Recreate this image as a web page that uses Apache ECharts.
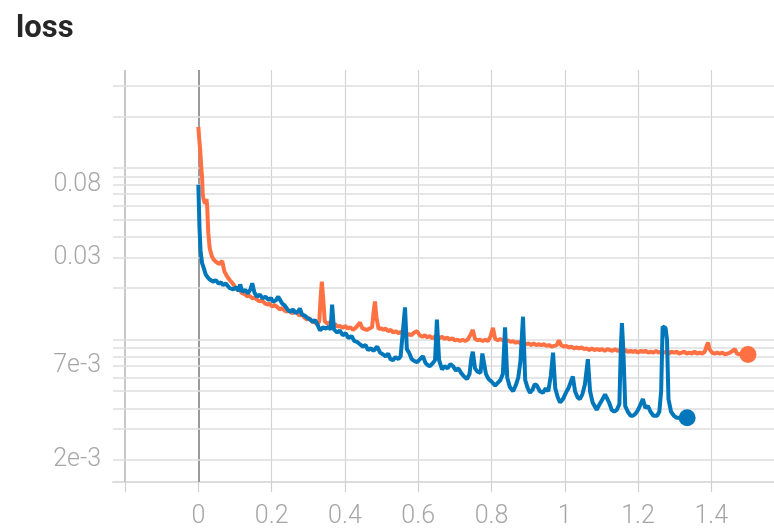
<!DOCTYPE html>
<html>
<head>
<meta charset="utf-8">
<script src="https://cdn.jsdelivr.net/npm/echarts@6/dist/echarts.min.js"></script>
<style>
html, body { margin: 0; padding: 0; background: #fff; }
#chart { width: 774px; height: 529px; }
</style>
</head>
<body>
<div id="chart"></div>
<script>
var chart = echarts.init(document.getElementById('chart'));

// x axis ticks (step, in millions) and labels
var xTicks = [-0.2, 0, 0.2, 0.4, 0.6, 0.8, 1, 1.2, 1.4];
var xLabelTicks = [0, 0.2, 0.4, 0.6, 0.8, 1, 1.2, 1.4];

// log grid lines on y, and which ones carry a label
var yGridLines = [0.3, 0.2, 0.1, 0.09, 0.08, 0.07, 0.06, 0.05, 0.04, 0.03, 0.02,
	0.01, 0.009, 0.008, 0.007, 0.006, 0.005, 0.004, 0.003, 0.002];
var yLabelValues = [0.08, 0.03, 0.007, 0.002];
var yLabelTexts = ['0.08', '0.03', '7e-3', '2e-3'];
var yMin = 0.00148;
var yMax = 0.3728;

var blueSteps = [0.000, 0.003, 0.006, 0.010, 0.015, 0.020, 0.024, 0.030, 0.035, 0.040,
	0.048, 0.055, 0.062, 0.067, 0.075, 0.085, 0.095, 0.103, 0.110, 0.114,
	0.120, 0.128, 0.135, 0.142, 0.147, 0.153, 0.160, 0.168, 0.175, 0.183,
	0.192, 0.198, 0.204, 0.212, 0.218, 0.223, 0.229, 0.236, 0.243, 0.250,
	0.258, 0.265, 0.272, 0.277, 0.283, 0.290, 0.297, 0.305, 0.312, 0.318,
	0.324, 0.332, 0.340, 0.348, 0.356, 0.361, 0.365, 0.370, 0.378, 0.386,
	0.394, 0.402, 0.410, 0.418, 0.426, 0.433, 0.441, 0.449, 0.456, 0.463,
	0.471, 0.478, 0.488, 0.496, 0.504, 0.511, 0.518, 0.524, 0.531, 0.538,
	0.546, 0.552, 0.556, 0.564, 0.569, 0.575, 0.582, 0.590, 0.597, 0.605,
	0.613, 0.620, 0.626, 0.632, 0.640, 0.646, 0.651, 0.657, 0.665, 0.672,
	0.680, 0.688, 0.695, 0.703, 0.710, 0.717, 0.725, 0.733, 0.740, 0.745,
	0.749, 0.755, 0.762, 0.770, 0.775, 0.779, 0.785, 0.792, 0.800, 0.810,
	0.817, 0.824, 0.831, 0.837, 0.843, 0.850, 0.859, 0.866, 0.873, 0.879,
	0.886, 0.892, 0.899, 0.905, 0.912, 0.918, 0.924, 0.932, 0.940, 0.948,
	0.955, 0.962, 0.968, 0.974, 0.981, 0.987, 0.995, 1.003, 1.010, 1.018,
	1.022, 1.028, 1.035, 1.041, 1.048, 1.055, 1.063, 1.069, 1.076, 1.087,
	1.095, 1.103, 1.110, 1.115, 1.121, 1.128, 1.135, 1.142, 1.149, 1.153,
	1.156, 1.160, 1.165, 1.172, 1.180, 1.186, 1.193, 1.200, 1.207, 1.213,
	1.220, 1.227, 1.234, 1.242, 1.252, 1.258, 1.263, 1.267, 1.275, 1.279,
	1.283, 1.290, 1.298, 1.306, 1.315, 1.324, 1.334];
var blueLoss = [0.080, 0.045, 0.033, 0.028, 0.026, 0.0240, 0.0233, 0.0225, 0.0228, 0.0218,
	0.0222, 0.0212, 0.0216, 0.0208, 0.0212, 0.0200, 0.0196, 0.0202, 0.0192, 0.0210,
	0.0190, 0.0195, 0.0186, 0.0196, 0.0213, 0.0188, 0.0178, 0.0183, 0.0174, 0.0178,
	0.0170, 0.0175, 0.0166, 0.0170, 0.0178, 0.0180, 0.0162, 0.0158, 0.0150, 0.0145,
	0.0150, 0.0143, 0.0146, 0.0152, 0.0140, 0.0138, 0.0134, 0.0131, 0.0127, 0.0130,
	0.0124, 0.0113, 0.0118, 0.0116, 0.0119, 0.0114, 0.0160, 0.0115, 0.0110, 0.0113,
	0.0106, 0.0109, 0.0102, 0.0105, 0.0098, 0.0097, 0.0094, 0.0091, 0.0093, 0.0087,
	0.0089, 0.0086, 0.0091, 0.0084, 0.0082, 0.0080, 0.0083, 0.0077, 0.0076, 0.0079,
	0.0077, 0.0080, 0.0082, 0.0154, 0.0088, 0.0084, 0.0077, 0.0075, 0.0074, 0.0077,
	0.0080, 0.0073, 0.0071, 0.0070, 0.0073, 0.0076, 0.0131, 0.0076, 0.0067, 0.0070,
	0.0068, 0.0072, 0.0070, 0.0066, 0.0068, 0.0064, 0.0061, 0.0059, 0.0063, 0.0078,
	0.0085, 0.0068, 0.0065, 0.0064, 0.0083, 0.0084, 0.0063, 0.0059, 0.0057, 0.0054,
	0.0056, 0.0058, 0.0063, 0.0118, 0.0060, 0.0053, 0.0050, 0.0054, 0.0060, 0.0075,
	0.0136, 0.0058, 0.0052, 0.0049, 0.0051, 0.0055, 0.0054, 0.0050, 0.0049, 0.0052,
	0.0050, 0.0062, 0.0084, 0.0052, 0.0046, 0.0043, 0.0045, 0.0049, 0.0052, 0.0058,
	0.0061, 0.0050, 0.0046, 0.0045, 0.0048, 0.0055, 0.0077, 0.0050, 0.0043, 0.0039,
	0.0042, 0.0045, 0.0048, 0.0049, 0.0043, 0.0039, 0.0038, 0.0039, 0.0042, 0.0090,
	0.0125, 0.0085, 0.0041, 0.0038, 0.0036, 0.0036, 0.0037, 0.0039, 0.0042, 0.0045,
	0.0040, 0.0041, 0.0038, 0.0036, 0.0036, 0.0038, 0.0050, 0.0119, 0.0117, 0.0100,
	0.0045, 0.0038, 0.0036, 0.0035, 0.0035, 0.0036, 0.0035];

var orangeSteps = [0.000, 0.002, 0.005, 0.008, 0.010, 0.012, 0.014, 0.018, 0.022, 0.024,
	0.027, 0.031, 0.037, 0.043, 0.051, 0.058, 0.065, 0.071, 0.078, 0.086,
	0.094, 0.100, 0.106, 0.113, 0.120, 0.127, 0.133, 0.140, 0.147, 0.153,
	0.160, 0.167, 0.174, 0.181, 0.188, 0.195, 0.201, 0.208, 0.215, 0.222,
	0.229, 0.236, 0.242, 0.249, 0.256, 0.262, 0.269, 0.276, 0.283, 0.290,
	0.297, 0.304, 0.311, 0.318, 0.324, 0.330, 0.334, 0.337, 0.341, 0.345,
	0.352, 0.359, 0.366, 0.373, 0.380, 0.387, 0.394, 0.401, 0.408, 0.415,
	0.422, 0.429, 0.435, 0.441, 0.447, 0.454, 0.460, 0.467, 0.474, 0.479,
	0.482, 0.486, 0.492, 0.498, 0.504, 0.511, 0.518, 0.525, 0.532, 0.539,
	0.546, 0.553, 0.560, 0.567, 0.574, 0.581, 0.589, 0.597, 0.604, 0.611,
	0.618, 0.624, 0.631, 0.638, 0.645, 0.651, 0.658, 0.665, 0.672, 0.679,
	0.686, 0.693, 0.700, 0.707, 0.714, 0.721, 0.728, 0.735, 0.742, 0.749,
	0.755, 0.762, 0.769, 0.776, 0.783, 0.790, 0.797, 0.804, 0.810, 0.817,
	0.824, 0.831, 0.838, 0.845, 0.852, 0.859, 0.866, 0.873, 0.880, 0.887,
	0.894, 0.901, 0.908, 0.915, 0.922, 0.929, 0.936, 0.943, 0.950, 0.957,
	0.964, 0.971, 0.978, 0.984, 0.990, 0.997, 1.004, 1.011, 1.018, 1.025,
	1.032, 1.039, 1.046, 1.053, 1.060, 1.067, 1.074, 1.081, 1.088, 1.095,
	1.102, 1.109, 1.116, 1.123, 1.130, 1.137, 1.144, 1.151, 1.158, 1.165,
	1.172, 1.179, 1.186, 1.193, 1.200, 1.207, 1.214, 1.221, 1.228, 1.235,
	1.242, 1.249, 1.256, 1.263, 1.270, 1.277, 1.284, 1.291, 1.298, 1.305,
	1.312, 1.319, 1.326, 1.333, 1.340, 1.347, 1.354, 1.361, 1.368, 1.375,
	1.382, 1.388, 1.391, 1.395, 1.402, 1.409, 1.416, 1.423, 1.430, 1.437,
	1.444, 1.451, 1.458, 1.464, 1.470, 1.477, 1.484, 1.491, 1.500];
var orangeLoss = [0.174, 0.150, 0.128, 0.100, 0.089, 0.070, 0.066, 0.062, 0.066, 0.060,
	0.042, 0.034, 0.0305, 0.0290, 0.0281, 0.0276, 0.0288, 0.0250, 0.0234, 0.0222,
	0.0212, 0.0203, 0.0196, 0.0194, 0.0186, 0.0184, 0.0179, 0.0180, 0.0174, 0.0176,
	0.0171, 0.0167, 0.0169, 0.0163, 0.0160, 0.0162, 0.0156, 0.0159, 0.0155, 0.0150,
	0.0153, 0.0147, 0.0146, 0.0148, 0.0142, 0.0146, 0.0144, 0.0138, 0.0141, 0.0134,
	0.0131, 0.0133, 0.0127, 0.0126, 0.0123, 0.0128, 0.0180, 0.0218, 0.0170, 0.0128,
	0.0124, 0.0126, 0.0121, 0.0123, 0.0119, 0.0120, 0.0117, 0.0120, 0.0116, 0.0118,
	0.0114, 0.0117, 0.0121, 0.0126, 0.0117, 0.0115, 0.0114, 0.0116, 0.0118, 0.0150,
	0.0167, 0.0135, 0.0115, 0.0117, 0.0114, 0.0116, 0.0112, 0.0114, 0.0110, 0.0112,
	0.0109, 0.0111, 0.0108, 0.0105, 0.0108, 0.0106, 0.0110, 0.0112, 0.0106, 0.0104,
	0.0106, 0.0103, 0.0105, 0.0102, 0.0104, 0.0105, 0.0102, 0.0104, 0.0101, 0.0103,
	0.0100, 0.0102, 0.0099, 0.0100, 0.0098, 0.0100, 0.0098, 0.0100, 0.0106, 0.0114,
	0.0101, 0.0099, 0.0100, 0.0098, 0.0100, 0.0098, 0.0104, 0.0117, 0.0101, 0.0099,
	0.0101, 0.0099, 0.0098, 0.0099, 0.0097, 0.0098, 0.0096, 0.0097, 0.0095, 0.0096,
	0.0094, 0.0095, 0.0093, 0.0095, 0.0093, 0.0094, 0.0093, 0.0094, 0.0092, 0.0093,
	0.0091, 0.0092, 0.0093, 0.0099, 0.0093, 0.0091, 0.0092, 0.0090, 0.0091, 0.0089,
	0.0090, 0.0089, 0.0090, 0.0088, 0.0089, 0.0087, 0.0089, 0.0087, 0.0088, 0.0087,
	0.0088, 0.0086, 0.0088, 0.0087, 0.0086, 0.0088, 0.0086, 0.0087, 0.0085, 0.0087,
	0.0085, 0.0086, 0.0085, 0.0086, 0.0084, 0.0086, 0.0085, 0.0086, 0.0084, 0.0085,
	0.0084, 0.0086, 0.0084, 0.0085, 0.0084, 0.0085, 0.0083, 0.0085, 0.0084, 0.0085,
	0.0083, 0.0084, 0.0085, 0.0083, 0.0084, 0.0083, 0.0085, 0.0083, 0.0084, 0.0083,
	0.0085, 0.0093, 0.0096, 0.0088, 0.0084, 0.0083, 0.0084, 0.0083, 0.0084, 0.0082,
	0.0083, 0.0084, 0.0086, 0.0088, 0.0083, 0.0082, 0.0083, 0.0082, 0.0082];

function zip(xs, ys) {
	var res = [];
	for (var i = 0; i < xs.length; i++) {
		res.push([xs[i], ys[i]]);
	}
	return res;
}

var labelFont = {
	color: '#a6a6a6',
	fontSize: 25,
	fontFamily: 'Roboto',
	fontWeight: 300
};

// vertical grid lines (the zero line is darker)
var vLines = xTicks.map(function(v) {
	var isZero = v === 0;
	return {
		xAxis: v,
		label: { show: false },
		lineStyle: {
			color: isZero ? '#9a9a9a' : (v === -0.2 ? '#c8c8c8' : '#d4d4d4'),
			width: isZero ? 2 : (v === -0.2 ? 2 : 1.2),
			type: 'solid'
		}
	};
});

// horizontal log grid lines drawn on a helper value axis in log10 units
var hLines = yGridLines.map(function(v) {
	var idx = yLabelValues.indexOf(v);
	return {
		yAxis: Math.log10(v),
		label: idx >= 0 ? {
			show: true,
			position: 'start',
			distance: 12,
			formatter: yLabelTexts[idx],
			color: labelFont.color,
			fontSize: labelFont.fontSize,
			fontFamily: labelFont.fontFamily,
			fontWeight: labelFont.fontWeight
		} : { show: false },
		lineStyle: { color: '#dedede', width: 1.5, type: 'solid' }
	};
});

var option = {
	animation: false,
	title: {
		text: 'loss',
		left: 11,
		top: 9,
		textStyle: {
			fontSize: 31,
			fontWeight: 'bold',
			fontFamily: 'Roboto',
			color: '#262626'
		}
	},
	grid: {
		left: 113,
		right: 0,
		top: 70,
		bottom: 46
	},
	xAxis: {
		type: 'value',
		min: -0.233,
		max: 1.571,
		splitLine: { show: false },
		axisLine: { show: true, lineStyle: { color: '#dcdcdc', width: 2 } },
		axisTick: {
			show: true,
			customValues: xTicks,
			length: 10,
			lineStyle: { color: '#d0d0d0', width: 1.2 }
		},
		axisLabel: {
			customValues: xLabelTicks,
			margin: 22,
			color: labelFont.color,
			fontSize: labelFont.fontSize,
			fontFamily: labelFont.fontFamily,
			fontWeight: labelFont.fontWeight
		}
	},
	yAxis: [{
		type: 'log',
		logBase: 10,
		min: yMin,
		max: yMax,
		splitLine: { show: false },
		axisLine: { show: false },
		axisTick: { show: false },
		axisLabel: { show: false }
	}, {
		type: 'value',
		min: Math.log10(yMin),
		max: Math.log10(yMax),
		show: false,
		splitLine: { show: false }
	}],
	series: [{
		name: 'grid',
		type: 'line',
		yAxisIndex: 1,
		data: [],
		silent: true,
		markLine: {
			silent: true,
			symbol: 'none',
			z: 1,
			animation: false,
			data: vLines.concat(hLines)
		}
	}, {
		name: 'orange',
		type: 'line',
		showSymbol: false,
		symbol: 'none',
		z: 3,
		lineStyle: { color: '#ff7043', width: 4 },
		itemStyle: { color: '#ff7043' },
		data: zip(orangeSteps, orangeLoss)
	}, {
		name: 'blue',
		type: 'line',
		showSymbol: false,
		symbol: 'none',
		z: 4,
		lineStyle: { color: '#0077bb', width: 4 },
		itemStyle: { color: '#0077bb' },
		data: zip(blueSteps, blueLoss)
	}, {
		name: 'ends',
		type: 'scatter',
		z: 5,
		symbolSize: 17,
		data: [
			{ value: [orangeSteps[orangeSteps.length - 1], orangeLoss[orangeLoss.length - 1]], itemStyle: { color: '#ff7043', opacity: 1 } },
			{ value: [blueSteps[blueSteps.length - 1], blueLoss[blueLoss.length - 1]], itemStyle: { color: '#0077bb', opacity: 1 } }
		]
	}]
};

chart.setOption(option);
</script>
</body>
</html>
